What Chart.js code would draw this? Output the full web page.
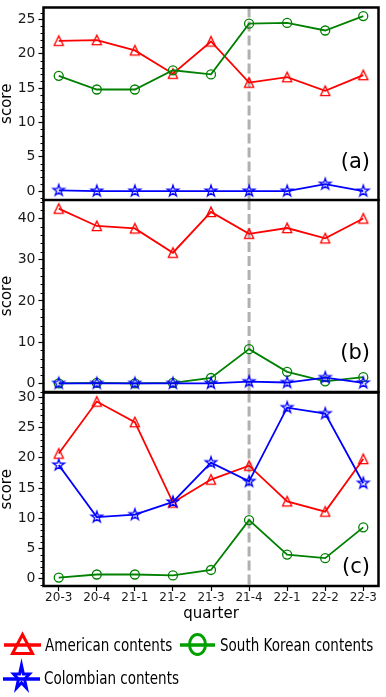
<!DOCTYPE html>
<html>
<head>
<meta charset="utf-8">
<script src="https://cdn.jsdelivr.net/npm/chart.js@4.4.0/dist/chart.umd.min.js"></script>
<style>
  html, body { margin: 0; padding: 0; background: #fff; }
  body { width: 386px; height: 697px; position: relative; overflow: hidden; font-family: "DejaVu Sans", sans-serif; }
  .panel { position: absolute; left: 0; width: 386px; }
  #legend span { position: absolute; font-size: 13.5px; line-height: 1; color: #000; white-space: nowrap;
                 transform: scaleY(1.3); transform-origin: left center; }
</style>
</head>
<body>
<div class="panel" style="top:0;height:201px"><canvas id="chartA"></canvas></div>
<div class="panel" style="top:199px;height:195px"><canvas id="chartB"></canvas></div>
<div class="panel" style="top:391px;height:236px"><canvas id="chartC"></canvas></div>
<canvas id="legendMarks" width="386" height="77" style="position:absolute;left:0;top:620px"></canvas>
<div id="legend">
  <span id="lgA" style="left:45px;top:639px"></span>
  <span id="lgK" style="left:220px;top:639px"></span>
  <span id="lgC" style="left:44px;top:672px"></span>
</div>
<script>
// x categories
const quarters = ['20-3', '20-4', '21-1', '21-2', '21-3', '21-4', '22-1', '22-2', '22-3'];
const splitQuarter = '21-4';
const seriesNames = ['American contents', 'South Korean contents', 'Colombian contents'];

// panel (a)
const americanA  = [21.9, 22.0, 20.5, 17.1, 21.8, 15.8, 16.6, 14.6, 16.9];
const koreanA    = [16.8, 14.8, 14.8, 17.6, 17.0, 24.4, 24.5, 23.4, 25.5];
const colombianA = [0.1, 0.0, 0.0, 0.0, 0.0, 0.0, 0.0, 1.0, 0.0];
const yTicksA = [0, 5, 10, 15, 20, 25];

// panel (b)
const americanB  = [42.4, 38.2, 37.6, 31.7, 41.6, 36.3, 37.7, 35.2, 40.0];
const koreanB    = [0.0, 0.1, 0.0, 0.1, 1.3, 8.3, 2.8, 0.5, 1.5];
const colombianB = [0.0, 0.0, 0.0, 0.0, 0.0, 0.4, 0.2, 1.4, 0.1];
const yTicksB = [0, 10, 20, 30, 40];

// panel (c)
const americanC  = [20.7, 29.3, 25.9, 12.6, 16.4, 18.7, 12.8, 11.1, 19.8];
const koreanC    = [0.2, 0.7, 0.7, 0.55, 1.45, 9.7, 4.0, 3.4, 8.5];
const colombianC = [18.8, 10.2, 10.6, 12.7, 19.2, 16.1, 28.3, 27.3, 15.8];
const yTicksC = [0, 5, 10, 15, 20, 25, 30];

const RED = '#ff0000', GREEN = '#008000', BLUE = '#0000ff';
const FONT = 'DejaVu Sans';
Chart.defaults.font.family = FONT;

// marker images (matplotlib-like hollow triangle and star)
function markerCanvas(size, draw) {
  const c = document.createElement('canvas');
  c.width = size; c.height = size;
  const g = c.getContext('2d');
  g.translate(size / 2, size / 2);
  draw(g);
  return c;
}
function starPath(g, R, ratio) {
  g.beginPath();
  for (let k = 0; k < 10; k++) {
    const r = k % 2 ? R * ratio : R;
    const a = -Math.PI / 2 + k * Math.PI / 5;
    const px = r * Math.cos(a), py = r * Math.sin(a);
    k ? g.lineTo(px, py) : g.moveTo(px, py);
  }
  g.closePath();
}
const triImg = markerCanvas(16, g => {
  const r = 4.6;
  g.beginPath(); g.moveTo(0, -r - 0.3); g.lineTo(-r, r); g.lineTo(r, r); g.closePath();
  g.strokeStyle = RED; g.lineWidth = 1.3; g.stroke();
});
const starImg = markerCanvas(18, g => {
  starPath(g, 6, 0.382);
  g.strokeStyle = BLUE; g.lineWidth = 1.3; g.stroke();
});

function seriesData(values) { return values.map((v, i) => ({x: i, y: v})); }

const panelDecor = {
  id: 'panelDecor',
  beforeDatasetsDraw(chart) {
    const {ctx, chartArea: a, scales: {x}} = chart;
    const px = x.getPixelForValue(quarters.indexOf(splitQuarter));
    ctx.save();
    ctx.strokeStyle = '#b0b0b0'; ctx.lineWidth = 3; ctx.setLineDash([10, 4]);
    ctx.beginPath(); ctx.moveTo(px, a.top); ctx.lineTo(px, a.bottom); ctx.stroke();
    ctx.restore();
  },
  afterDatasetsDraw(chart, args, opts) {
    const {ctx, chartArea: a, scales: {y}} = chart;
    ctx.save();
    // minor ticks
    ctx.strokeStyle = '#000'; ctx.lineWidth = 1;
    const step = opts.minorStep;
    for (let v = Math.ceil(y.min / step) * step; v <= y.max; v += step) {
      if (opts.major.includes(v)) continue;
      const py = Math.round(y.getPixelForValue(v)) + 0.5;
      ctx.beginPath(); ctx.moveTo(a.left - 3, py); ctx.lineTo(a.left, py); ctx.stroke();
    }
    // frame
    ctx.lineWidth = 2.5;
    ctx.strokeRect(a.left, a.top, a.right - a.left, a.bottom - a.top);
    // panel letter
    ctx.fillStyle = '#000';
    ctx.font = '21px "' + FONT + '"';
    ctx.textAlign = 'right'; ctx.textBaseline = 'middle';
    ctx.fillText(opts.letter, a.right - 8.5, a.bottom - opts.lift);
    ctx.restore();
  }
};

function makeChart(id, values, yMin, yMax, yTicks, minorStep, letter, lift, padding, showX) {
  return new Chart(document.getElementById(id), {
    type: 'line',
    data: {
      datasets: [
        { label: seriesNames[0], data: seriesData(values[0]), order: 3,
          borderColor: RED, borderWidth: 1.8, pointStyle: triImg, pointRadius: 5 },
        { label: seriesNames[1], data: seriesData(values[1]), order: 2,
          borderColor: GREEN, borderWidth: 1.8, pointStyle: 'circle', pointRadius: 4.5,
          pointBorderWidth: 1.3, pointBorderColor: GREEN, pointBackgroundColor: 'rgba(0,0,0,0)' },
        { label: seriesNames[2], data: seriesData(values[2]), order: 1,
          borderColor: BLUE, borderWidth: 1.8, pointStyle: starImg, pointRadius: 5 }
      ]
    },
    options: {
      responsive: true,
      maintainAspectRatio: false,
      animation: false,
      events: [],
      layout: { padding: padding, autoPadding: false },
      plugins: {
        legend: { display: false },
        tooltip: { enabled: false },
        panelDecor: { letter: letter, lift: lift, minorStep: minorStep, major: yTicks }
      },
      scales: {
        x: {
          type: 'linear', min: -0.4, max: 8.4, display: showX,
          afterBuildTicks: s => { s.ticks = quarters.map((q, i) => ({value: i})); },
          afterFit: s => { if (showX) s.height = 41; s.paddingLeft = 0; s.paddingRight = 0; },
          ticks: { callback: v => quarters[v], font: {size: 12}, color: '#1a1a1a', padding: 0,
                   maxRotation: 0, autoSkip: false },
          grid: { drawOnChartArea: false, drawTicks: true, tickLength: 5, tickWidth: 1.2, tickColor: '#000' },
          border: { display: false },
          title: { display: true, text: 'quarter', font: {size: 15}, color: '#000', padding: {top: 0, bottom: 4} }
        },
        y: {
          min: yMin, max: yMax,
          afterBuildTicks: s => { s.ticks = yTicks.map(v => ({value: v})); },
          afterFit: s => { s.width = 43.5; s.paddingTop = 0; s.paddingBottom = 0; },
          ticks: { font: {size: 14}, color: '#1a1a1a', padding: 3 },
          grid: { drawOnChartArea: false, drawTicks: true, tickLength: 5, tickWidth: 1.2, tickColor: '#000' },
          border: { display: false },
          title: { display: true, text: 'score', font: {size: 15, lineHeight: 1}, color: '#000', padding: 0 }
        }
      }
    },
    plugins: [panelDecor]
  });
}

makeChart('chartA', [americanA, koreanA, colombianA], -1.3, 26.75, yTicksA, 1, '(a)', 37,
          {top: 7.5, bottom: 1, left: 0, right: 7.5}, false);
makeChart('chartB', [americanB, koreanB, colombianB], -2.1, 44.5, yTicksB, 2, '(b)', 38,
          {top: 1, bottom: 2, left: 0, right: 7.5}, false);
makeChart('chartC', [americanC, koreanC, colombianC], -1.2, 30.8, yTicksC, 1, '(c)', 18,
          {top: 1.5, bottom: 0, left: 0, right: 7.5}, true);

// legend
document.getElementById('lgA').textContent = seriesNames[0];
document.getElementById('lgK').textContent = seriesNames[1];
document.getElementById('lgC').textContent = seriesNames[2];

(function drawLegendMarks() {
  const g = document.getElementById('legendMarks').getContext('2d');
  g.translate(0, -620);
  g.lineJoin = 'miter';
  function line(x0, x1, y, color) {
    g.strokeStyle = color; g.lineWidth = 3.5;
    g.beginPath(); g.moveTo(x0, y); g.lineTo(x1, y); g.stroke();
  }
  // American
  line(4, 41, 645, RED);
  g.strokeStyle = RED; g.lineWidth = 3;
  g.beginPath(); g.moveTo(22.5, 634.5); g.lineTo(12.5, 653.5); g.lineTo(32.5, 653.5); g.closePath(); g.stroke();
  // South Korean
  const LG = '#00a000';
  line(180, 215, 645, LG);
  g.strokeStyle = LG; g.lineWidth = 3;
  g.beginPath(); g.ellipse(197.5, 644.5, 8, 10, 0, 0, Math.PI * 2); g.stroke();
  // Colombian
  line(3, 40, 679, BLUE);
  g.save();
  g.translate(21.5, 677.8); g.scale(1, 1.5);
  starPath(g, 8.4, 0.382);
  g.restore();
  g.strokeStyle = BLUE; g.lineWidth = 3; g.stroke();
})();
</script>
</body>
</html>
